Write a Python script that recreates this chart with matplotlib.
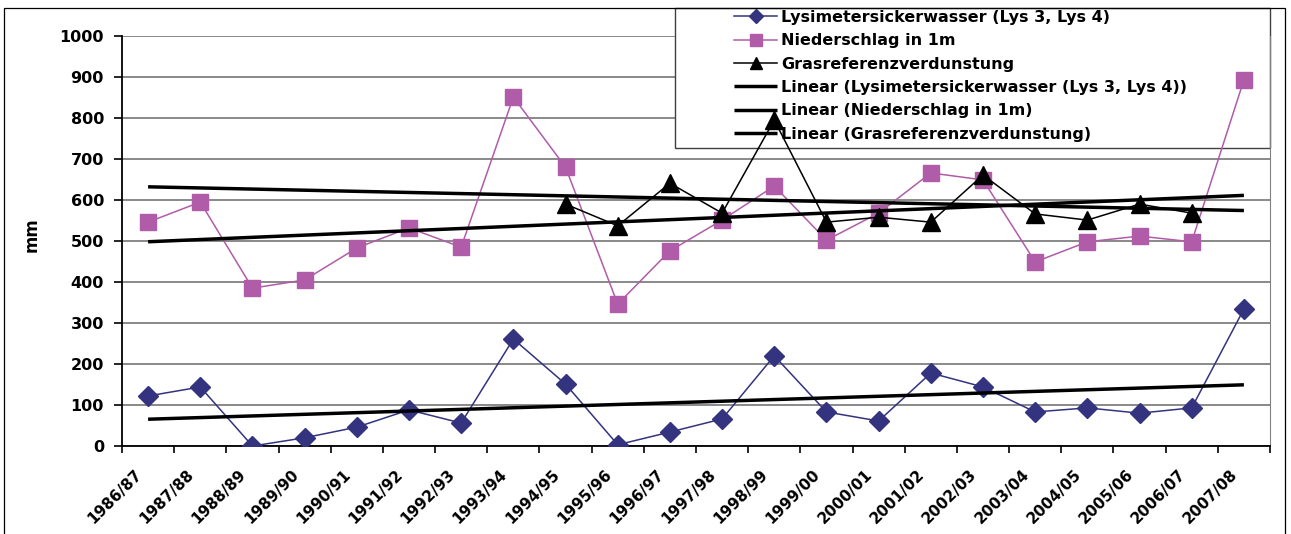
import numpy as np
import matplotlib
matplotlib.use("Agg")
import matplotlib.pyplot as plt
from matplotlib.patches import Rectangle
from matplotlib.transforms import ScaledTranslation

years = ["1986/87", "1987/88", "1988/89", "1989/90", "1990/91", "1991/92",
         "1992/93", "1993/94", "1994/95", "1995/96", "1996/97", "1997/98",
         "1998/99", "1999/00", "2000/01", "2001/02", "2002/03", "2003/04",
         "2004/05", "2005/06", "2006/07", "2007/08"]

lysimeter = [122, 144, 0, 20, 46, 88, 56, 261, 151, 3, 34, 66,
             220, 83, 61, 178, 144, 83, 93, 80, 93, 334]

niederschlag = [546, 595, 385, 405, 483, 532, 485, 851, 680, 346, 476, 551,
                634, 502, 568, 666, 649, 449, 498, 512, 498, 893]

# no values before 1994/95 and for 2007/08
gras = [np.nan] * 8 + [590, 537, 641, 568, 795, 546, 558, 546, 661, 566,
                       551, 590, 568, np.nan]

plt.rcParams["font.family"] = "DejaVu Sans"
plt.rcParams["font.weight"] = "bold"

W, H = 1291, 534
fig = plt.figure(figsize=(W / 100, H / 100), dpi=100)
ax = fig.add_axes([122 / W, 1 - 446 / H, 1148 / W, 410 / H])

x = np.arange(len(years))
lys = np.array(lysimeter, dtype=float)
nie = np.array(niederschlag, dtype=float)
gra = np.array(gras, dtype=float)

c_lys = "#33337F"
c_nie = "#B05CA8"

h1, = ax.plot(x, lys, color=c_lys, lw=1.1, marker="D", ms=10,
              mec=c_lys, mfc=c_lys, zorder=3)
h2, = ax.plot(x, nie, color=c_nie, lw=1.1, marker="s", ms=11.5,
              mec=c_nie, mfc=c_nie, zorder=3)
ok = ~np.isnan(gra)
h3, = ax.plot(x[ok], gra[ok], color="black", lw=1.1, marker="^", ms=12.5,
              mec="black", mfc="black", zorder=3)

# linear trend lines over the full range
trend_handles = []
for vals in (lys, nie, gra):
    m = ~np.isnan(vals)
    k, d = np.polyfit(x[m], vals[m], 1)
    xs = np.array([x[0], x[-1]])
    th, = ax.plot(xs, k * xs + d, color="black", lw=2.5, zorder=4,
                  solid_capstyle="butt")
    trend_handles.append(th)

ax.set_xlim(-0.5, len(years) - 0.5)
ax.set_ylim(0, 1000)
ax.set_yticks(np.arange(0, 1001, 100))
ax.grid(axis="y", color="#6a6a6a", lw=1.1)
ax.set_axisbelow(True)

ax.set_xticks(np.arange(-0.5, len(years)), [])
ax.set_xticks(x, years, minor=True)
ax.tick_params(axis="x", which="major", direction="out", length=5,
               width=1.2, color="black")
ax.tick_params(axis="x", which="minor", length=0, pad=15)
ax.tick_params(axis="y", direction="out", length=6, width=1.2, pad=7,
               labelsize=11.5)
for lab in ax.get_xticklabels(minor=True):
    lab.set_rotation(45)
    lab.set_ha("right")
    lab.set_va("top")
    lab.set_rotation_mode("anchor")
    lab.set_fontsize(11)
    lab.set_transform(lab.get_transform() +
                      ScaledTranslation(-10 / 72, 0, fig.dpi_scale_trans))

ax.spines["top"].set_visible(False)
ax.spines["right"].set_color("#808080")
ax.spines["left"].set_linewidth(1.3)
ax.spines["bottom"].set_linewidth(1.3)

ax.set_ylabel("mm", fontsize=12, fontweight="bold", va="center")
ax.yaxis.set_label_coords((31.5 - 122) / 1148, (446 - 235) / 410)

# outer chart frame
fig.patches.append(Rectangle((4 / W, -0.1), (1285 - 4) / W, 1.1 - 8 / H,
                             transform=fig.transFigure, fill=False,
                             edgecolor="black", lw=0.9, zorder=0))
# legend box: above the grid, below the data
ax.add_patch(Rectangle((675 / W, 1 - 148 / H), 595 / W, 140 / H,
                       transform=fig.transFigure, facecolor="white",
                       edgecolor="#404040", lw=1.0, zorder=1.5,
                       clip_on=False))

labels = ["Lysimetersickerwasser (Lys 3, Lys 4)", "Niederschlag in 1m",
          "Grasreferenzverdunstung",
          "Linear (Lysimetersickerwasser (Lys 3, Lys 4))",
          "Linear (Niederschlag in 1m)", "Linear (Grasreferenzverdunstung)"]
leg = ax.legend([h1, h2, h3] + trend_handles, labels, loc="upper left",
                bbox_to_anchor=(734 / W, 1 - 10 / H),
                bbox_transform=fig.transFigure, frameon=False,
                prop={"size": 11.5, "weight": "bold"}, handlelength=2.7,
                handletextpad=0.25, borderpad=0, borderaxespad=0,
                labelspacing=0.52, markerscale=0.7)
leg.set_zorder(2)

fig.savefig("out.png", dpi=100)
